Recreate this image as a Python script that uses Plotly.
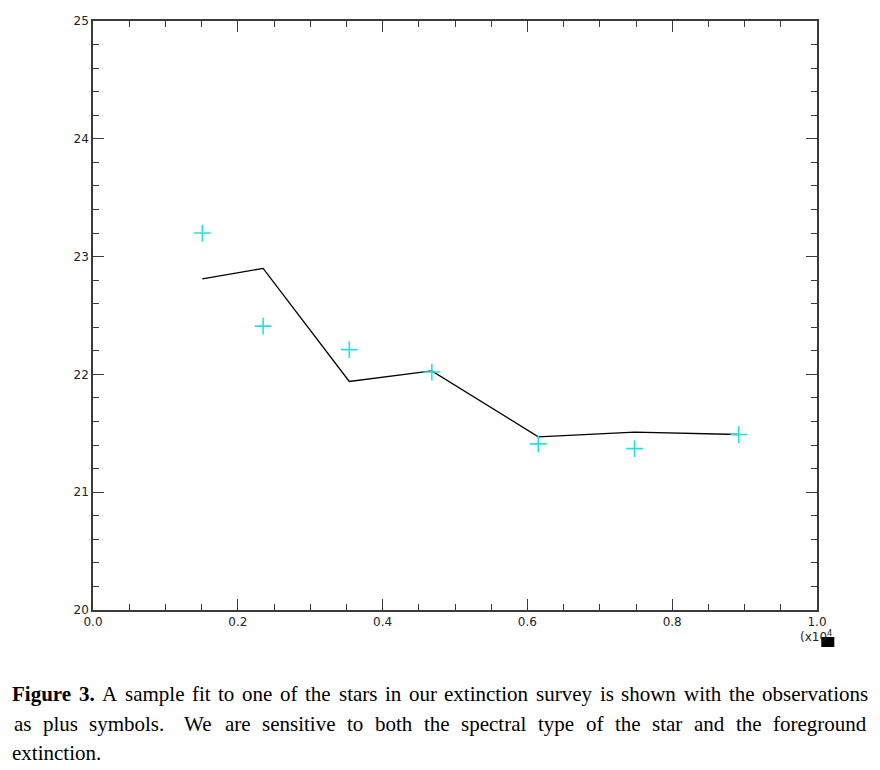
import plotly.graph_objects as go

# observations (plus symbols), x in units of 10^4
obs_x = [0.151, 0.235, 0.354, 0.468, 0.615, 0.748, 0.892]
obs_y = [23.20, 22.41, 22.21, 22.02, 21.41, 21.37, 21.49]

# model fit (solid line)
fit_x = [0.151, 0.235, 0.354, 0.468, 0.615, 0.748, 0.892]
fit_y = [22.81, 22.90, 21.94, 22.03, 21.47, 21.51, 21.49]

x_ticks = [0.0, 0.2, 0.4, 0.6, 0.8, 1.0]
y_ticks = [20, 21, 22, 23, 24, 25]

caption_bold = "Figure 3."
caption_line1 = ("A sample fit to one of the stars in our "
                 "extinction survey is shown with the observations")
caption_line2 = ("as plus symbols. We are sensitive to both the spectral type "
                 "of the star and the foreground")
caption_line3 = "extinction."

# plot area in page pixels (page is drawn with an 8px body margin)
X0_PX, X1_PX = 93.3, 816.7
Y0_PX, Y1_PX = 610.0, 20.7

CAP_SIZE = 21
# Times / Liberation Serif advance widths (1/1000 em), used to justify lines
REG_W = {'a': 444, 'b': 500, 'c': 444, 'd': 500, 'e': 444, 'f': 333, 'g': 500,
         'h': 500, 'i': 278, 'j': 278, 'k': 500, 'l': 278, 'm': 778, 'n': 500,
         'o': 500, 'p': 500, 'q': 500, 'r': 333, 's': 389, 't': 278, 'u': 500,
         'v': 500, 'w': 722, 'x': 500, 'y': 500, 'z': 444, 'A': 722, 'W': 944,
         '.': 250}
BOLD_W = {'F': 611, 'i': 278, 'g': 500, 'u': 556, 'r': 444, 'e': 444,
          '3': 500, '.': 250}


def px_x(px):
    return (px - X0_PX) / (X1_PX - X0_PX)


def px_y(py):
    return (Y0_PX - py) / (Y0_PX - Y1_PX)


def word_width(word, bold=False):
    table = BOLD_W if bold else REG_W
    return sum(table.get(c, 500) for c in word) * CAP_SIZE / 1000.0


def justify(words, left, right):
    widths = [word_width(w, b) for w, b in words]
    # a sentence end gets a wider space (as TeX does)
    weights = [1.7 if w.endswith('.') and not b else 1.0 for w, b in words[:-1]]
    gap = (right - left - sum(widths)) / sum(weights)
    pos, x = [], left
    for i, w in enumerate(widths):
        pos.append(x)
        if i < len(weights):
            x += w + gap * weights[i]
    return pos


def main():
    fig = go.Figure()

    fig.add_trace(go.Scatter(
        x=fit_x, y=fit_y, mode='lines',
        line=dict(color='black', width=1.3),
        showlegend=False,
    ))
    fig.add_trace(go.Scatter(
        x=obs_x, y=obs_y, mode='markers',
        marker=dict(symbol='cross-thin', size=12,
                    line=dict(color='#22e2e2', width=1.6)),
        showlegend=False,
    ))

    axis_style = dict(
        showgrid=False, zeroline=False, automargin=False,
        showline=True, linecolor='#3a3a3a', linewidth=1.5,
        mirror='allticks',
        ticks='inside', ticklen=11, tickwidth=1.3, tickcolor='#3a3a3a',
        tickfont=dict(family='DejaVu Sans', size=12, color='#222'),
    )

    fig.update_layout(
        width=872, height=762,
        margin=dict(l=85, r=63, t=13, b=160),
        paper_bgcolor='white', plot_bgcolor='white',
        xaxis=dict(
            range=[0, 1], tickvals=x_ticks,
            ticktext=['%.1f' % v for v in x_ticks],
            minor=dict(dtick=0.05, ticks='inside', ticklen=6,
                       tickwidth=1.3, tickcolor='#3a3a3a'),
            **axis_style,
        ),
        yaxis=dict(
            range=[20, 25], tickvals=y_ticks,
            minor=dict(dtick=0.2, ticks='inside', ticklen=6,
                       tickwidth=1.3, tickcolor='#3a3a3a'),
            **axis_style,
        ),
    )

    # x scale factor label and the little black box next to it
    fig.add_annotation(
        text='(x10<sup>4</sup>', xref='paper', yref='paper',
        x=px_x(798), y=px_y(636), xanchor='left', yanchor='middle',
        showarrow=False, font=dict(family='DejaVu Sans', size=12, color='#222'),
    )
    fig.add_shape(
        type='rect', xref='paper', yref='paper',
        x0=px_x(821), x1=px_x(834), y0=px_y(647), y1=px_y(637),
        fillcolor='black', line=dict(width=0),
    )

    # caption below the plot, justified like the original
    cap_font = dict(family='Liberation Serif', size=CAP_SIZE, color='black')

    def put_word(text, px, py):
        fig.add_annotation(
            text=text, xref='paper', yref='paper',
            x=px_x(px), y=px_y(py), xanchor='left', yanchor='middle',
            showarrow=False, font=cap_font, borderpad=0,
        )

    words1 = [(w, True) for w in caption_bold.split()] + \
             [(w, False) for w in caption_line1.split()]
    for (w, b), px in zip(words1, justify(words1, 11, 867)):
        put_word('<b>%s</b>' % w if b else w, px, 694)

    words2 = [(w, False) for w in caption_line2.split()]
    for (w, b), px in zip(words2, justify(words2, 13, 865)):
        put_word(w, px, 724)

    put_word(caption_line3, 11, 753)

    fig.write_html('out.html')


if __name__ == "__main__":
    main()
